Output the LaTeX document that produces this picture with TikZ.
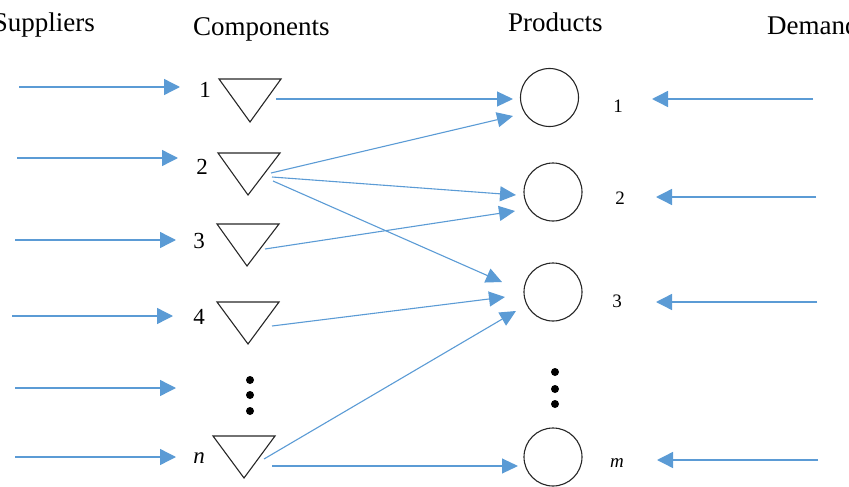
\documentclass[tikz,border=0pt]{standalone}
\usepackage{fontspec}
\setmainfont{Liberation Serif}
\usetikzlibrary{arrows.meta}
\definecolor{flow}{HTML}{5B9BD5}
\begin{document}
\begin{tikzpicture}[x=1pt,y=-1pt,
  head/.style={font=\fontsize{27}{30}\selectfont,inner sep=0pt},
  lnum/.style={font=\fontsize{23}{26}\selectfont,inner sep=0pt,anchor=base},
  rnum/.style={font=\fontsize{19}{22}\selectfont,inner sep=0pt,anchor=base},
  comp/.style={draw=black!85,line width=1.1pt,line join=miter},
  prod/.style={draw=black!85,line width=1.1pt,circle,minimum size=58pt,inner sep=0pt},
  supply/.style={draw=flow,line width=1.4pt,-{Triangle[length=16pt,width=16pt]}},
  link/.style={draw=flow,line width=1.1pt,-{Triangle[length=16pt,width=15pt]}},
  bigdot/.style={fill=black,circle,inner sep=0pt,minimum size=8pt}]
\useasboundingbox (0,0) rectangle (849,487);

% headers
\node[head,anchor=base east] (hs) at (95,32) {Suppliers};
\node[head,anchor=base west] (hc) at (193,36) {Components};
\node[head,anchor=base west] (hp) at (508,32) {Products};
\node[head,anchor=base west] (hd) at (767,35) {Demand};

% component triangles
\draw[comp] (219,79) -- (281,79) -- (250,122) -- cycle;
\draw[comp] (218,153) -- (280,153) -- (248,195) -- cycle;
\draw[comp] (217,224) -- (279,224) -- (247,266) -- cycle;
\draw[comp] (217,302) -- (279,302) -- (248,344) -- cycle;
\draw[comp] (213,436) -- (275,436) -- (244,478) -- cycle;

% component labels
\node[lnum] (l1) at (205,97) {1};
\node[lnum] (l2) at (202,174) {2};
\node[lnum] (l3) at (199,248) {3};
\node[lnum] (l4) at (199,324) {4};
\node[lnum] (ln) at (199,463) {\itshape n};

% left dots
\node[bigdot] (ld1) at (250,380) {};
\node[bigdot] (ld2) at (250,395) {};
\node[bigdot] (ld3) at (250,411) {};

% product circles
\node[prod] (p1) at (549.5,97.5) {};
\node[prod] (p2) at (553,192) {};
\node[prod] (p3) at (553,292) {};
\node[prod] (pm) at (553,457) {};

% right dots
\node[bigdot] (rd1) at (555,372) {};
\node[bigdot] (rd2) at (555,389) {};
\node[bigdot] (rd3) at (555,404) {};

% product labels
\node[rnum] (r1) at (618,113) {1};
\node[rnum] (r2) at (620,204) {2};
\node[rnum] (r3) at (617,307) {3};
\node[rnum] (rm) at (617,467) {\itshape m};

% supplier arrows
\coordinate (s1a) at (19,87);  \coordinate (s1b) at (180,87);
\coordinate (s2a) at (17,158); \coordinate (s2b) at (178,158);
\coordinate (s3a) at (15,240); \coordinate (s3b) at (176,240);
\coordinate (s4a) at (12,316); \coordinate (s4b) at (173,316);
\coordinate (s5a) at (15,388); \coordinate (s5b) at (176,388);
\coordinate (s6a) at (15,457); \coordinate (s6b) at (176,457);
\foreach \i in {1,...,6} \draw[supply] (s\i a) -- (s\i b);

% demand arrows
\coordinate (d1a) at (813,99);  \coordinate (d1b) at (652,99);
\coordinate (d2a) at (816,197); \coordinate (d2b) at (656,197);
\coordinate (d3a) at (817,302); \coordinate (d3b) at (656,302);
\coordinate (d4a) at (818,460); \coordinate (d4b) at (657,460);
\foreach \i in {1,...,4} \draw[supply] (d\i a) -- (d\i b);

% component -> product links
\coordinate (c1) at (276,99);   \coordinate (e1) at (513,99);
\coordinate (c2) at (271,173);  \coordinate (e2) at (513,116);
\coordinate (c3) at (272,177);  \coordinate (e3) at (516,195);
\coordinate (c4) at (273,181);  \coordinate (e4) at (502,282);
\coordinate (c5) at (265,249);  \coordinate (e5) at (515,211);
\coordinate (c6) at (272,326);  \coordinate (e6) at (505,297);
\coordinate (c7) at (264,459);  \coordinate (e7) at (516,311);
\coordinate (c8) at (272,466);  \coordinate (e8) at (518,466);
\foreach \i in {1,...,8} \draw[link] (c\i) -- (e\i);
\end{tikzpicture}
\end{document}
